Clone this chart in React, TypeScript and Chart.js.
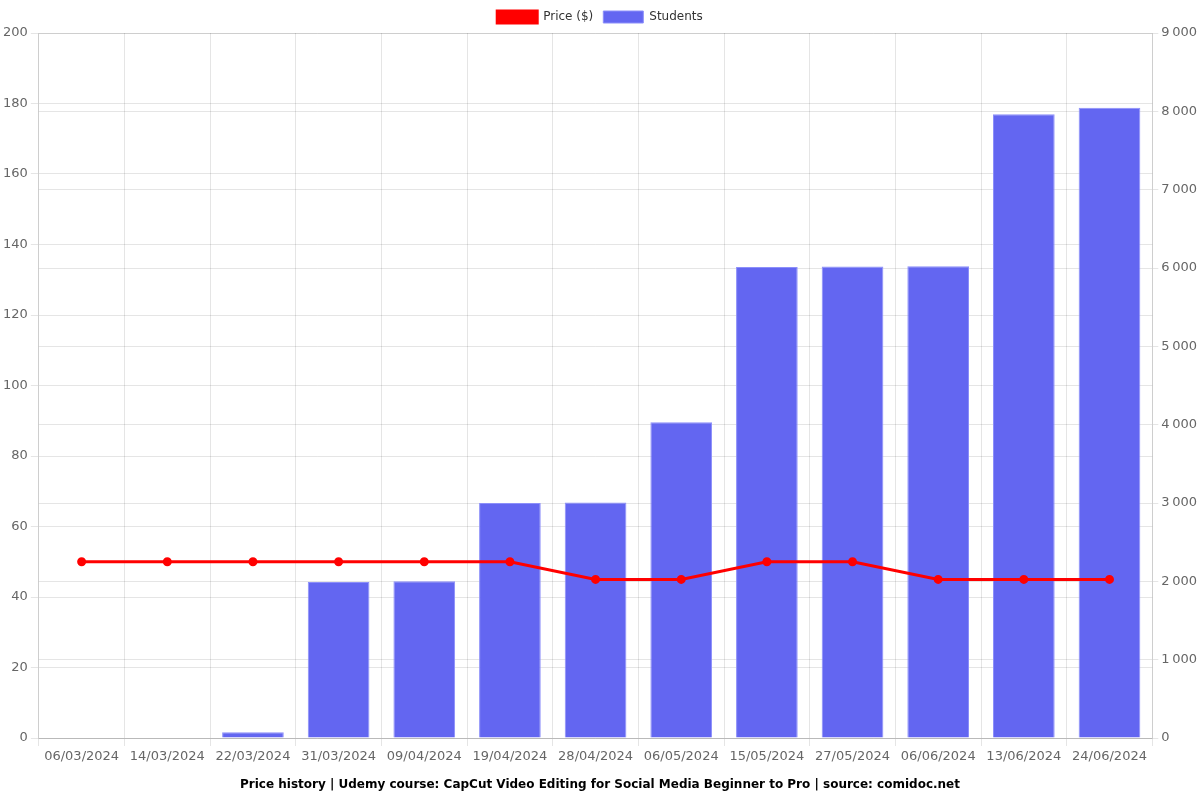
import React, { useEffect, useRef } from "react";
import { Chart, registerables } from "chart.js";

Chart.register(...registerables);

const dates = ["06/03/2024","14/03/2024","22/03/2024","31/03/2024","09/04/2024","19/04/2024","28/04/2024","06/05/2024","15/05/2024","27/05/2024","06/06/2024","13/06/2024","24/06/2024"];
const prices = [49.99,49.99,49.99,49.99,49.99,49.99,44.99,44.99,49.99,49.99,44.99,44.99,44.99];
const students = [0,0,75,1992,2000,3000,3005,4030,6012,6020,6022,7962,8045];
const titleText = "Price history | Udemy course: CapCut Video Editing for Social Media Beginner to Pro | source: comidoc.net";

export default function App() {
  const ref = useRef<HTMLCanvasElement>(null);
  useEffect(() => {
    if (!ref.current) return;
    Chart.defaults.font.family = "'DejaVu Sans', sans-serif";
    const chart = new Chart(ref.current, {
      type: "bar",
      data: {
        labels: dates,
        datasets: [
          {
            type: "line",
            label: "Price ($)",
            data: prices,
            borderColor: "rgb(255,0,0)",
            backgroundColor: "rgb(255,0,0)",
            borderWidth: 3,
            pointRadius: 3,
            pointBackgroundColor: "rgb(255,0,0)",
            yAxisID: "y",
            tension: 0,
            order: 0,
          },
          {
            type: "bar",
            label: "Students",
            data: students,
            backgroundColor: "rgb(99,102,241)",
            borderColor: "rgba(140,143,250,1)",
            borderWidth: 1,
            yAxisID: "y1",
            order: 1,
          },
        ],
      },
      options: {
        responsive: false,
        animation: false,
        layout: { padding: { left: 0, right: 0, top: 1, bottom: 0 } },
        plugins: {
          legend: {
            position: "top",
            labels: { font: { size: 12 }, color: "#333", boxWidth: 40, boxHeight: 12 },
          },
          title: {
            display: true,
            text: titleText,
            position: "bottom",
            padding: { top: 10, bottom: 8 },
            font: { size: 12, weight: "bold" },
            color: "#000",
          },
        },
        scales: {
          x: {
            grid: { color: "rgba(0,0,0,0.1)" },
            ticks: { color: "#666", font: { size: 13 } },
          },
          y: {
            position: "left",
            min: 0,
            max: 200,
            ticks: { stepSize: 20, color: "#666", font: { size: 13 } },
            grid: { color: "rgba(0,0,0,0.1)" },
          },
          y1: {
            position: "right",
            min: 0,
            max: 9000,
            ticks: {
              stepSize: 1000,
              color: "#666",
              font: { size: 13 },
              callback: (v: any) => {
                const n = Number(v);
                const th = Math.floor(n / 1000);
                return th > 0 ? th + "\u202f" + String(n % 1000).padStart(3, "0") : String(n);
              },
            },
            grid: { color: "rgba(0,0,0,0.1)", tickLength: 6 },
          },
        },
      },
    });
    return () => chart.destroy();
  }, []);
  return (
    <div style={{ position: "absolute", left: 0, top: 0, width: 1200, height: 800 }}>
      <canvas ref={ref} width={1200} height={800} />
    </div>
  );
}
